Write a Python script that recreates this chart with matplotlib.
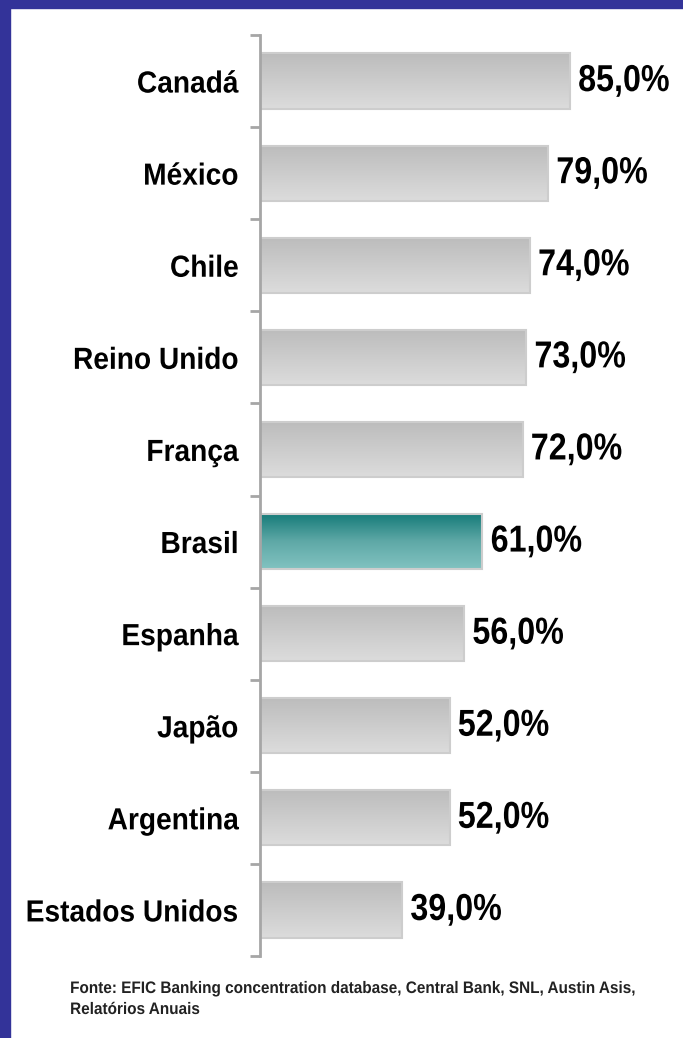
import matplotlib
matplotlib.use("Agg")
import matplotlib.pyplot as plt
import numpy as np
from matplotlib.patches import Rectangle
from matplotlib.colors import LinearSegmentedColormap
from matplotlib.patheffects import AbstractPathEffect
from matplotlib.transforms import Affine2D

countries = ["Canadá", "México", "Chile", "Reino Unido", "França", "Brasil",
             "Espanha", "Japão", "Argentina", "Estados Unidos"]
values = [85.0, 79.0, 74.0, 73.0, 72.0, 61.0, 56.0, 52.0, 52.0, 39.0]
highlight = "Brasil"
source_text = ("Fonte: EFIC Banking concentration database, Central Bank, SNL, Austin Asis,\n"
               "Relatórios Anuais")

FONT = ["Liberation Sans", "DejaVu Sans"]


class Condense(AbstractPathEffect):
    """Horizontally condense text glyphs around their left or right edge."""

    def __init__(self, sx, anchor="left"):
        super().__init__()
        self.sx = sx
        self.anchor = anchor

    def draw_path(self, renderer, gc, tpath, affine, rgbFace=None):
        ext = affine.transform_path(tpath).get_extents()
        x0 = ext.x0 if self.anchor == "left" else ext.x1
        new = affine + Affine2D().translate(-x0, 0).scale(self.sx, 1).translate(x0, 0)
        renderer.draw_path(gc, tpath, new, rgbFace)


fig = plt.figure(figsize=(6.83, 10.38), dpi=100)
fig.patch.set_facecolor("white")

# blue frame (top and left bands)
blue = "#333399"
fig.patches.append(Rectangle((0, 1 - 8 / 1038), 1, 8 / 1038, transform=fig.transFigure,
                             color=blue, zorder=0))
fig.patches.append(Rectangle((0, 0), 10 / 683, 1, transform=fig.transFigure,
                             color=blue, zorder=0))

ax = fig.add_axes([260 / 683, 82 / 1038, 423 / 683, 921 / 1038])
ax.set_xlim(0, 116)
ax.set_ylim(len(countries) - 0.5, -0.5)

y = np.arange(len(countries))
bars = ax.barh(y, values, height=0.6, color="none",
               edgecolor="#cdcdcd", linewidth=1.5, zorder=3)

grey_cmap = LinearSegmentedColormap.from_list("g", ["#bcbcbc", "#dcdcdc"])
teal_cmap = LinearSegmentedColormap.from_list("t", ["#147a78", "#5ea8a6", "#82c3c1"])
grad = np.linspace(0, 1, 256).reshape(-1, 1)
for name, b in zip(countries, bars):
    x0, y0 = b.get_x(), b.get_y()
    w, h = b.get_width(), b.get_height()
    cmap = teal_cmap if name == highlight else grey_cmap
    im = ax.imshow(grad, cmap=cmap, aspect="auto", extent=(x0, x0 + w, y0 + h, y0),
                   origin="upper", zorder=2)
    im.set_clip_path(b)

for i, v in enumerate(values):
    ax.text(v + 2.2, i, f"{v:.1f}%".replace(".", ","), va="center", ha="left",
            fontsize=27, fontweight="bold", family=FONT, color="black", zorder=4,
            path_effects=[Condense(0.86, "left")])

for s in ["top", "right", "bottom"]:
    ax.spines[s].set_visible(False)
ax.spines["left"].set_color("#a6a6a6")
ax.spines["left"].set_linewidth(2)
ax.spines["left"].set_zorder(5)

ax.set_xticks([])
ax.set_yticks(y)
ax.set_yticklabels(countries, fontsize=22, fontweight="bold", family=FONT)
for lbl in ax.get_yticklabels():
    lbl.set_path_effects([Condense(0.92, "right")])
ax.tick_params(axis="y", which="major", length=0, pad=15.5)
ax.set_yticks(np.arange(-0.5, len(countries), 1.0), minor=True)
ax.tick_params(axis="y", which="minor", length=7, width=2, color="#a6a6a6",
               direction="out")

fig.text(70 / 683, 1 - 981 / 1038, source_text, ha="left", va="top", fontsize=12,
         fontweight="bold", family=FONT, color="#222222", linespacing=1.5,
         path_effects=[Condense(0.92, "left")])

fig.savefig("out.png", dpi=100, facecolor="white")
